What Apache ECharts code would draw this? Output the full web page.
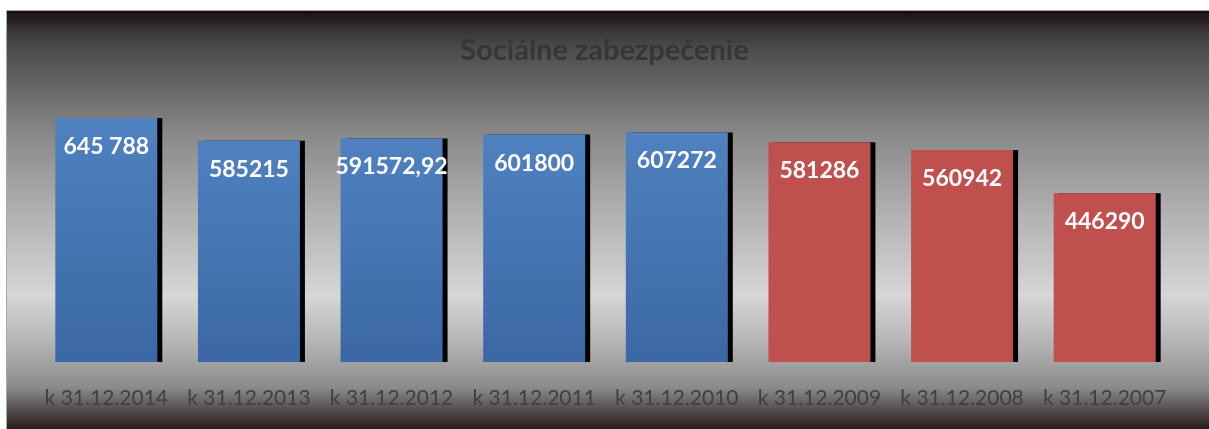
<!DOCTYPE html>
<html>
<head>
<meta charset="utf-8">
<script src="https://cdn.jsdelivr.net/npm/echarts@6/dist/echarts.min.js"></script>
<style>
  html, body { margin: 0; padding: 0; background: #fff; }
  #container { width: 1209px; height: 429px; }
</style>
</head>
<body>
<div id="container"></div>
<script>
// údaje grafu
const categories = ['k 31.12.2014', 'k 31.12.2013', 'k 31.12.2012', 'k 31.12.2011',
  'k 31.12.2010', 'k 31.12.2009', 'k 31.12.2008', 'k 31.12.2007'];
const values = [645788, 585215, 591572.92, 601800, 607272, 581286, 560942, 446290];
const valueLabels = ['645 788', '585215', '591572,92', '601800', '607272', '581286', '560942', '446290'];
const groups = ['blue', 'blue', 'blue', 'blue', 'blue', 'red', 'red', 'red'];

const fills = {
  blue: new echarts.graphic.LinearGradient(0, 0, 0, 1, [
    { offset: 0, color: '#4f81c0' },
    { offset: 1, color: '#3b68a4' }
  ]),
  red: '#c0504d'
};

const bgGradient = new echarts.graphic.LinearGradient(0, 0, 0, 1, [
  { offset: 0, color: '#180d0d' },
  { offset: 0.05, color: '#3a3636' },
  { offset: 0.09, color: '#4c4a4a' },
  { offset: 0.3, color: '#8a8a8a' },
  { offset: 0.5, color: '#b4b4b4' },
  { offset: 0.68, color: '#d6d6d6' },
  { offset: 0.8, color: '#b2b2b2' },
  { offset: 0.9, color: '#8a8a8a' },
  { offset: 0.96, color: '#4c4444' },
  { offset: 1, color: '#261a1a' }
]);

const chart = echarts.init(document.getElementById('container'));

const option = {
  backgroundColor: '#ffffff',
  animation: false,
  graphic: {
    elements: [{
      type: 'rect',
      left: 6,
      top: 10,
      shape: { width: 1203, height: 419 },
      style: { fill: bgGradient, stroke: '#a8a8a8', lineWidth: 1 },
      z: -10
    }]
  },
  title: {
    text: 'Sociálne zabezpečenie',
    left: 'center',
    top: 31,
    textStyle: {
      fontFamily: 'Lato',
      fontWeight: 'bold',
      fontSize: 29,
      color: '#363636'
    }
  },
  grid: {
    left: 35,
    right: 33,
    top: 97.5,
    bottom: 67,
    containLabel: false
  },
  xAxis: {
    type: 'category',
    data: categories,
    axisLine: { show: false },
    axisTick: { show: false },
    axisLabel: {
      margin: 26,
      fontFamily: 'Lato',
      fontSize: 21,
      color: '#404040',
      interval: 0
    }
  },
  yAxis: {
    type: 'value',
    min: 0,
    max: 700000,
    show: false,
    splitLine: { show: false }
  },
  series: [{
    type: 'bar',
    barWidth: '71.5%',
    data: values.map((v, i) => ({
      value: v,
      itemStyle: { color: fills[groups[i]] }
    })),
    itemStyle: {
      shadowColor: '#000000',
      shadowOffsetX: 5,
      shadowOffsetY: 0,
      shadowBlur: 0
    },
    label: {
      show: true,
      position: 'insideTop',
      distance: 17,
      fontFamily: 'Lato',
      fontWeight: 'bold',
      fontSize: 23,
      color: '#ffffff',
      formatter: p => valueLabels[p.dataIndex]
    }
  }]
};

chart.setOption(option);
</script>
</body>
</html>
